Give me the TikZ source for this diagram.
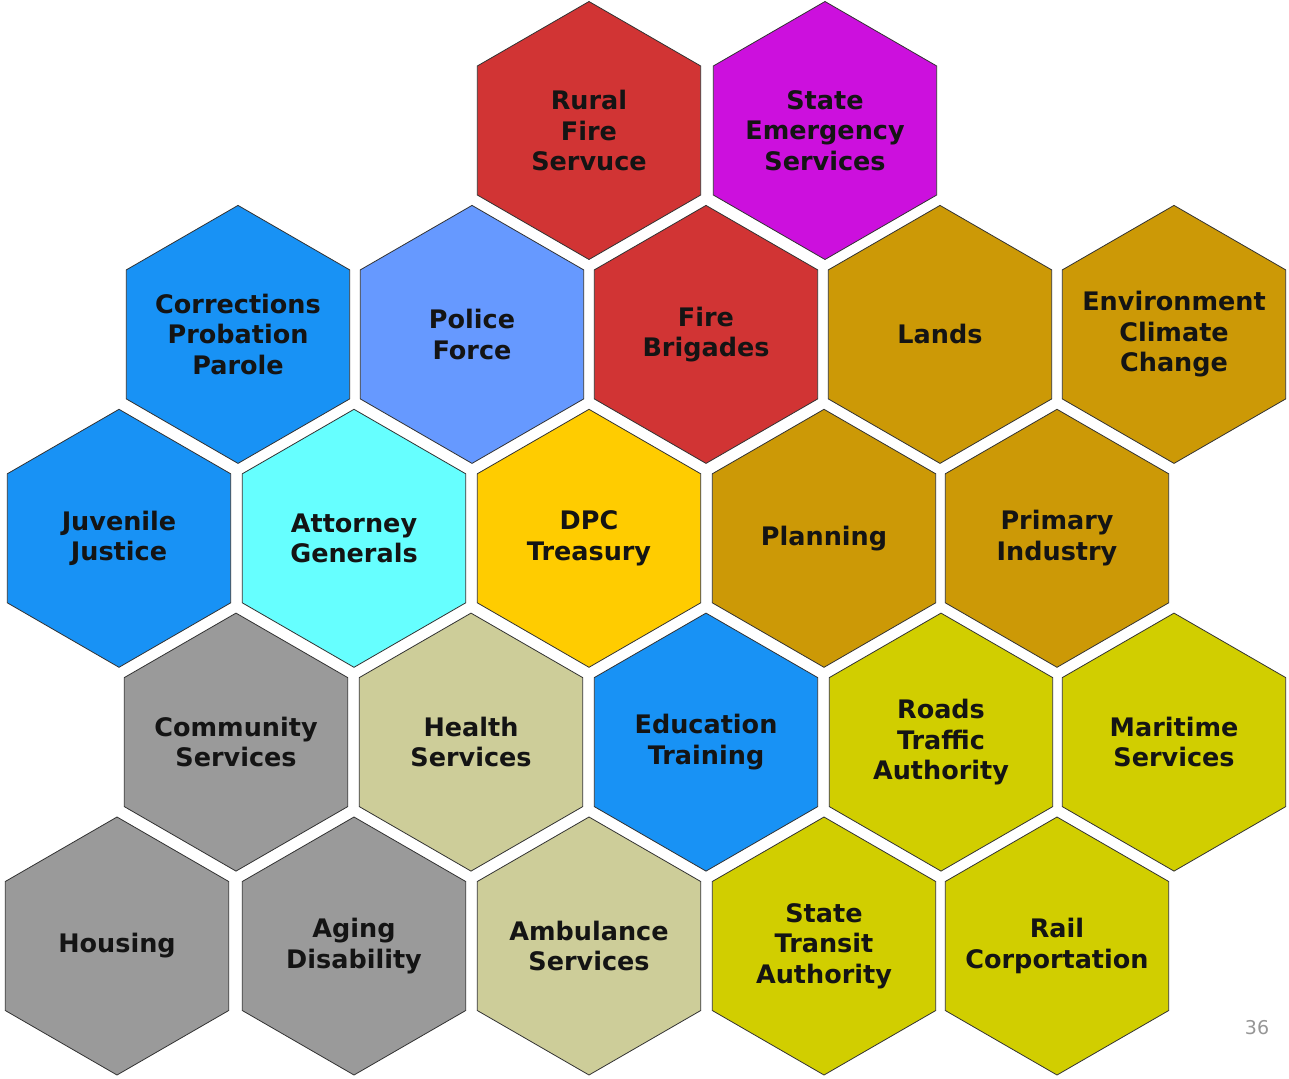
\documentclass[tikz,border=0pt]{standalone}
\usepackage{fontspec}
\setmainfont{DejaVu Sans}
\usetikzlibrary{shapes.geometric}
\definecolor{redh}{RGB}{209,52,52}
\definecolor{magh}{RGB}{204,16,221}
\definecolor{blueh}{RGB}{24,146,245}
\definecolor{polh}{RGB}{102,153,255}
\definecolor{goldh}{RGB}{204,153,6}
\definecolor{cyanh}{RGB}{102,255,255}
\definecolor{yelh}{RGB}{255,204,0}
\definecolor{grayh}{RGB}{154,154,154}
\definecolor{khakh}{RGB}{205,205,153}
\definecolor{olh}{RGB}{209,206,0}
\definecolor{edgeh}{RGB}{50,50,50}
\definecolor{texth}{RGB}{20,20,20}
\definecolor{pagenum}{RGB}{150,150,150}
\tikzset{
  hexa/.style={regular polygon, regular polygon sides=6, shape border rotate=30,
    minimum size=258pt, inner sep=0pt, outer sep=0pt, draw=edgeh, line width=0.8pt},
  hexlabel/.style={font=\bfseries\fontsize{25.5}{30.5}\selectfont, align=center,
    text=texth, inner sep=0pt}
}
\newcommand{\hexcell}[5]{%
  \node[hexa, fill=#4] (#1) at (#2,#3) {};
  \node[hexlabel] (#1-t) at (#1.center) {#5};}
\begin{document}
\begin{tikzpicture}[x=1pt,y=-1pt]
\useasboundingbox (0,0) rectangle (1289,1078);
% row 1
\hexcell{rural}{589}{130.5}{redh}{Rural\\Fire\\Servuce}
\hexcell{ses}{825}{130.5}{magh}{State\\Emergency\\Services}
% row 2
\hexcell{corr}{238}{334.4}{blueh}{Corrections\\Probation\\Parole}
\hexcell{police}{472}{334.4}{polh}{Police\\Force}
\hexcell{firebr}{706}{334.4}{redh}{Fire\\Brigades}
\hexcell{lands}{940}{334.4}{goldh}{Lands}
\hexcell{env}{1174}{334.4}{goldh}{Environment\\Climate\\Change}
% row 3
\hexcell{juv}{119}{538.3}{blueh}{Juvenile\\Justice}
\hexcell{att}{354}{538.3}{cyanh}{Attorney\\Generals}
\hexcell{dpc}{589}{538.3}{yelh}{DPC\\Treasury}
\hexcell{plan}{824}{538.3}{goldh}{Planning}
\hexcell{prim}{1057}{538.3}{goldh}{Primary\\Industry}
% row 4
\hexcell{comm}{236}{742.1}{grayh}{Community\\Services}
\hexcell{health}{471}{742.1}{khakh}{Health\\Services}
\hexcell{edu}{706}{742.1}{blueh}{Education\\Training}
\hexcell{roads}{941}{742.1}{olh}{Roads\\Traffic\\Authority}
\hexcell{mari}{1174}{742.1}{olh}{Maritime\\Services}
% row 5
\hexcell{housing}{117}{946}{grayh}{Housing}
\hexcell{aging}{354}{946}{grayh}{Aging\\Disability}
\hexcell{amb}{589}{946}{khakh}{Ambulance\\Services}
\hexcell{sta}{824}{946}{olh}{State\\Transit\\Authority}
\hexcell{rail}{1057}{946}{olh}{Rail\\Corportation}
% page number
\node[font=\fontsize{19}{22}\selectfont, text=pagenum, inner sep=0pt] (pnum) at (1257,1028) {36};
\end{tikzpicture}
\end{document}
